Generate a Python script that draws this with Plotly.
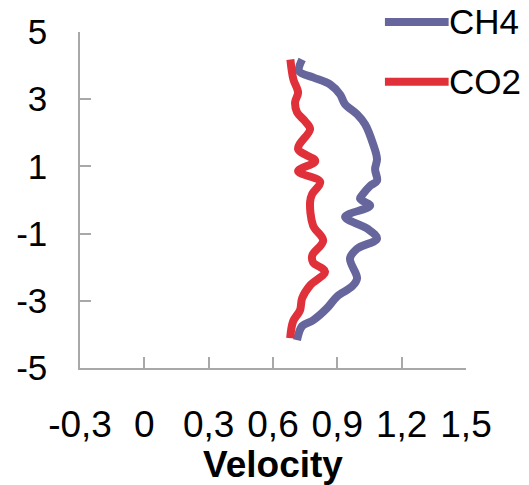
import plotly.graph_objects as go

# Velocity profiles across the channel height
ch4_velocity = [0.736, 0.722, 0.787, 0.866, 0.913, 0.936, 0.992, 1.030, 1.067, 1.085,
                1.076, 1.085, 1.053, 1.020, 1.006, 1.053, 0.936, 1.039, 1.085, 0.992,
                0.959, 0.992, 0.969, 0.899, 0.852, 0.787, 0.736, 0.712]
ch4_height = [4.18, 3.83, 3.65, 3.44, 3.14, 2.85, 2.55, 2.25, 1.66, 1.22,
              0.92, 0.57, 0.42, 0.18, 0.04, -0.17, -0.50, -0.85, -1.15, -1.45,
              -1.74, -2.33, -2.57, -2.87, -3.22, -3.58, -3.75, -4.17]

co2_velocity = [0.681, 0.695, 0.717, 0.703, 0.712, 0.750, 0.773, 0.717, 0.797, 0.717,
                0.820, 0.783, 0.773, 0.787, 0.834, 0.783, 0.787, 0.843, 0.773, 0.736,
                0.726, 0.694, 0.680]
co2_height = [4.18, 3.59, 3.20, 2.91, 2.61, 2.34, 2.11, 1.52, 1.16, 0.86,
              0.54, 0.18, -0.05, -0.76, -1.21, -1.65, -1.86, -2.13, -2.54, -2.92,
              -3.28, -3.61, -4.11]

x_ticks = [-0.3, 0, 0.3, 0.6, 0.9, 1.2, 1.5]
x_tick_labels = ["-0,3", "0", "0,3", "0,6", "0,9", "1,2", "1,5"]
y_ticks = [-5, -3, -1, 1, 3, 5]
y_tick_labels = ["-5", "-3", "-1", "1", "3", "5"]

series_names = ["CH4", "CO2"]
series_colors = ["#66669c", "#e0303a"]

FONT = "Liberation Sans, Arial, sans-serif"
AXIS_GREY = "#a8a8a8"

fig = go.Figure()
for name, xs, ys, color in [
    (series_names[0], ch4_velocity, ch4_height, series_colors[0]),
    (series_names[1], co2_velocity, co2_height, series_colors[1]),
]:
    fig.add_trace(go.Scatter(
        x=xs, y=ys, mode="lines", name=name,
        line=dict(color=color, width=8, shape="spline", smoothing=1.0),
        showlegend=False,
    ))

# Legend keys drawn at the top right
legend_rows = [1.030, 0.852]
for name, color, ypos in zip(series_names, series_colors, legend_rows):
    fig.add_shape(type="line", xref="paper", yref="paper",
                  x0=0.790, x1=0.955, y0=ypos, y1=ypos,
                  line=dict(color=color, width=8), layer="above")
    fig.add_annotation(xref="paper", yref="paper", x=0.952, y=ypos,
                       text=name, showarrow=False, xanchor="left", yanchor="middle",
                       font=dict(family=FONT, size=35, color="#000000"))

fig.update_layout(
    width=529, height=485,
    margin=dict(l=80, r=63, t=32, b=115),
    paper_bgcolor="white", plot_bgcolor="white",
    showlegend=False,
)

fig.update_xaxes(
    range=[-0.3, 1.5], tickvals=x_ticks, ticktext=x_tick_labels,
    showgrid=False, zeroline=False,
    showline=True, linecolor=AXIS_GREY, linewidth=1.5,
    ticks="inside", ticklen=11, tickcolor=AXIS_GREY, tickwidth=1.5,
    tickfont=dict(family=FONT, size=37, color="#000000"),
    ticklabelstandoff=23,
    title=dict(text="<b>Velocity</b>", font=dict(family=FONT, size=37, color="#000000"), standoff=2),
)
fig.update_yaxes(
    range=[-5, 5], tickvals=y_ticks, ticktext=y_tick_labels,
    showgrid=False, zeroline=False,
    showline=True, linecolor=AXIS_GREY, linewidth=1.5,
    ticks="inside", ticklen=11, tickcolor=AXIS_GREY, tickwidth=1.5,
    tickfont=dict(family=FONT, size=35, color="#000000"),
    ticklabelstandoff=24,
)

fig.write_html("out.html")
